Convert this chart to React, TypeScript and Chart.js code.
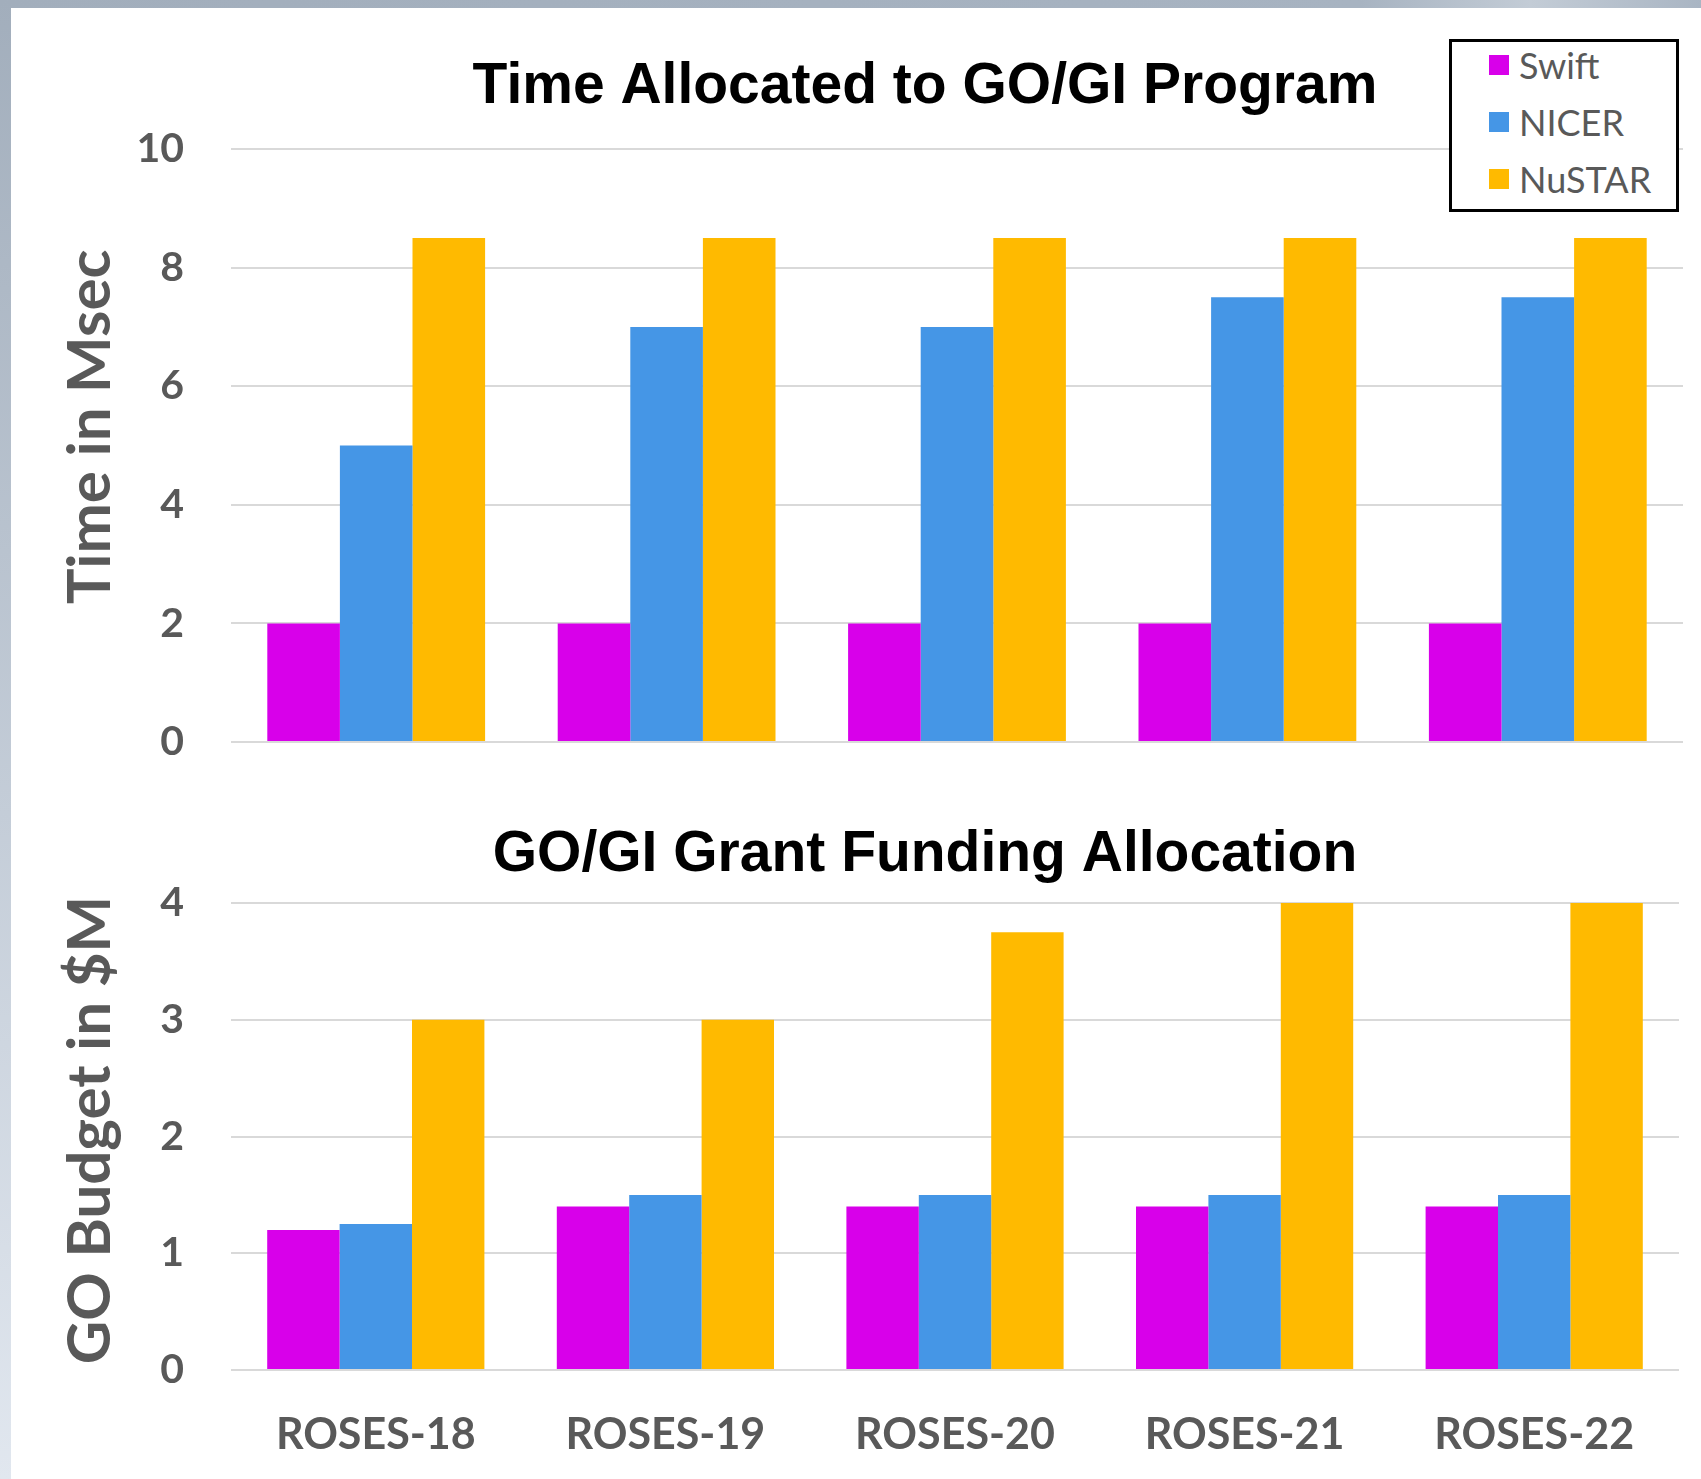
import React, { useEffect, useRef } from "react";
import { Chart, registerables } from "chart.js";

Chart.register(...registerables);

const categories = ["ROSES-18", "ROSES-19", "ROSES-20", "ROSES-21", "ROSES-22"];
const seriesNames = ["Swift", "NICER", "NuSTAR"];
const seriesColors = ["#d800ea", "#4596e6", "#ffba00"];

const timeSwift = [2, 2, 2, 2, 2];
const timeNicer = [5, 7, 7, 7.5, 7.5];
const timeNustar = [8.5, 8.5, 8.5, 8.5, 8.5];

const fundSwift = [1.2, 1.4, 1.4, 1.4, 1.4];
const fundNicer = [1.25, 1.5, 1.5, 1.5, 1.5];
const fundNustar = [3, 3, 3.75, 4, 4];

const timeTickMax = 10;
const timeTickStep = 2;
const fundTickMax = 4;
const fundTickStep = 1;

const topTitle = "Time Allocated to GO/GI Program";
const bottomTitle = "GO/GI Grant Funding Allocation";
const topYTitle = "Time in Msec";
const bottomYTitle = "GO Budget in $M";

const GRAY = "#595959";
const GRID = "#d9d9d9";

// Draws the chart title and the rotated y-axis title at set layout positions.
const panelTextPlugin = {
  id: "panelText",
  afterDraw(chart: any, _args: any, opts: any) {
    const ctx = chart.ctx;
    ctx.save();
    ctx.font = `bold ${opts.titleSize}px "Liberation Sans", Arial, sans-serif`;
    ctx.fillStyle = "#000";
    ctx.textAlign = "center";
    ctx.textBaseline = "alphabetic";
    ctx.fillText(opts.title, opts.titleX, opts.titleY);
    ctx.restore();

    ctx.save();
    ctx.translate(opts.yTitleX, opts.yTitleY);
    ctx.rotate(-Math.PI / 2);
    ctx.font = `bold ${opts.yTitleSize}px Lato, sans-serif`;
    ctx.fillStyle = GRAY;
    ctx.textAlign = "center";
    ctx.textBaseline = "middle";
    ctx.fillText(opts.yTitle, 0, 0);
    ctx.restore();
  },
};

function makeDatasets(values: number[][]) {
  return values.map((v, i) => ({
    label: seriesNames[i],
    data: v,
    backgroundColor: seriesColors[i],
    borderWidth: 0,
    categoryPercentage: 0.75,
    barPercentage: 1.0,
  }));
}

function yScale(max: number, step: number) {
  return {
    min: 0,
    max,
    border: { display: false },
    grid: { color: GRID, lineWidth: 2, drawTicks: false },
    ticks: {
      stepSize: step,
      padding: 47,
      color: GRAY,
      font: { family: "Lato", size: 41, weight: "bold" },
    },
    afterFit: (s: any) => {
      s.width = 220;
    },
  };
}

export default function App() {
  const topRef = useRef<HTMLCanvasElement>(null);
  const botRef = useRef<HTMLCanvasElement>(null);

  useEffect(() => {
    document.body.style.margin = "0";
    Chart.defaults.font.family = "Lato";

    const c1 = new Chart(topRef.current!, {
      type: "bar",
      data: {
        labels: categories,
        datasets: makeDatasets([timeSwift, timeNicer, timeNustar]) as any,
      },
      plugins: [panelTextPlugin],
      options: {
        animation: false,
        responsive: false,
        devicePixelRatio: 1,
        layout: { padding: { top: 141, left: 0, right: 18, bottom: 74 } },
        plugins: {
          legend: { display: false },
          tooltip: { enabled: false },
          title: { display: false },
          panelText: {
            title: topTitle,
            titleX: 914,
            titleY: 95,
            titleSize: 57,
            yTitle: topYTitle,
            yTitleX: 80,
            yTitleY: 419,
            yTitleSize: 60,
          },
        } as any,
        scales: {
          x: { display: false, grid: { display: false } },
          y: yScale(timeTickMax, timeTickStep) as any,
        },
      },
    });

    const c2 = new Chart(botRef.current!, {
      type: "bar",
      data: {
        labels: categories,
        datasets: makeDatasets([fundSwift, fundNicer, fundNustar]) as any,
      },
      plugins: [panelTextPlugin],
      options: {
        animation: false,
        responsive: false,
        devicePixelRatio: 1,
        layout: { padding: { top: 135, left: 0, right: 22, bottom: 0 } },
        plugins: {
          legend: { display: false },
          tooltip: { enabled: false },
          title: { display: false },
          panelText: {
            title: bottomTitle,
            titleX: 914,
            titleY: 103,
            titleSize: 57,
            yTitle: bottomYTitle,
            yTitleX: 80,
            yTitleY: 362,
            yTitleSize: 60,
          },
        } as any,
        scales: {
          x: {
            border: { display: false },
            grid: { display: false, drawTicks: false },
            ticks: {
              padding: 39,
              color: GRAY,
              font: { family: "Lato", size: 43, weight: "bold" },
            },
            afterFit: (s: any) => {
              s.height = 109;
            },
          } as any,
          y: yScale(fundTickMax, fundTickStep) as any,
        },
      },
    });

    return () => {
      c1.destroy();
      c2.destroy();
    };
  }, []);

  return (
    <div
      style={{
        position: "relative",
        width: 1701,
        height: 1479,
        background: "#ffffff",
        overflow: "hidden",
      }}
    >
      <div
        style={{
          position: "absolute",
          left: 0,
          top: 0,
          width: 1701,
          height: 8,
          background:
            "linear-gradient(to right, #a2aebc 0%, #a7b3c1 80%, #c3ccd6 90%, #a9b5c3 100%)",
        }}
      />
      <div
        style={{
          position: "absolute",
          left: 0,
          top: 0,
          width: 11,
          height: 1479,
          background: "linear-gradient(to bottom, #a2aebc 0%, #c4cdd8 55%, #e1e7ef 100%)",
        }}
      />
      <canvas
        ref={topRef}
        width={1690}
        height={808}
        style={{ position: "absolute", left: 11, top: 8, display: "block" }}
      />
      <canvas
        ref={botRef}
        width={1690}
        height={711}
        style={{ position: "absolute", left: 11, top: 768, display: "block" }}
      />
      <div
        style={{
          position: "absolute",
          left: 1449,
          top: 39,
          width: 230,
          height: 173,
          boxSizing: "border-box",
          border: "3px solid #000",
          background: "#fff",
        }}
      >
        {seriesNames.map((name, i) => (
          <div
            key={name}
            style={{
              position: "absolute",
              left: 37,
              top: 3 + i * 57,
              height: 40,
              display: "flex",
              alignItems: "center",
              fontFamily: "Lato, sans-serif",
              fontSize: 36,
              color: GRAY,
              whiteSpace: "nowrap",
            }}
          >
            <span
              style={{
                display: "inline-block",
                width: 20,
                height: 20,
                background: seriesColors[i],
                marginRight: 10,
              }}
            />
            {name}
          </div>
        ))}
      </div>
    </div>
  );
}
